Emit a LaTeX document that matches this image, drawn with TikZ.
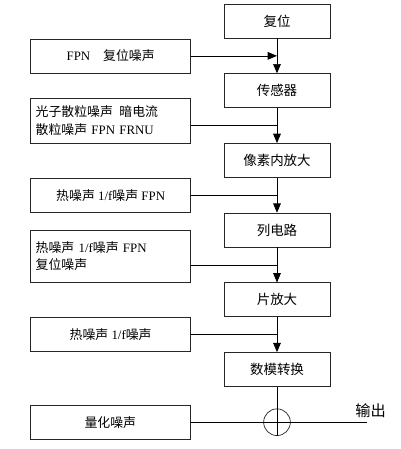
\documentclass[tikz,border=0pt]{standalone}
\usepackage{fontspec}
\setmainfont{Liberation Serif}
\newfontfamily\cjk{Noto Sans CJK SC}
\usetikzlibrary{arrows.meta,positioning,calc}
\newcommand{\zh}[1]{{\cjk #1}}

\begin{document}
\begin{tikzpicture}[
  node distance=10.5mm and 25.8mm, >={Triangle[length=2.8mm,width=2.3mm]},
  line width=0.6pt,
  stage/.style={rectangle, draw=black!85, minimum width=31.8mm, minimum height=10.2mm, font=\fontsize{11.5}{15}\selectfont},
  noise/.style={rectangle, draw=black!85, minimum width=48mm, minimum height=10.2mm, font=\fontsize{11}{15}\selectfont},
  noise2/.style={noise, text width=45mm, align=left, inner xsep=1.5mm},
  sum/.style={circle, draw=black!85, minimum size=8mm, inner sep=0pt},
]
  \useasboundingbox (0,0) rectangle (12.03,-13.47);

  % signal chain
  \node[stage] (reset) at (8.31,-0.63) {\zh{复位}};
  \node[stage, below=of reset] (sensor) {\zh{传感器}};
  \node[stage, below=of sensor] (pixamp) {\zh{像素内放大}};
  \node[stage, below=of pixamp] (column) {\zh{列电路}};
  \node[stage, below=of column] (chipamp) {\zh{片放大}};
  \node[stage, below=of chipamp] (adc) {\zh{数模转换}};
  \node[sum, below=6.5mm of adc] (sum) {};
  \coordinate[right=23mm of sum] (out);

  % noise entry points
  \coordinate (j1) at ($(reset.south)!.5!(sensor.north)$);
  \coordinate (j2) at ($(sensor.south)!.5!(pixamp.north)$);
  \coordinate (j3) at ($(pixamp.south)!.5!(column.north)$);
  \coordinate (j4) at ($(column.south)!.5!(chipamp.north)$);
  \coordinate (j5) at ($(chipamp.south)!.5!(adc.north)$);

  % noise sources
  \node[noise, left=of j1] (nreset) {FPN\quad\zh{复位噪声}};
  \node[noise2, minimum height=13.5mm, left=of j2, yshift=1.5mm] (nshot)
    {\zh{光子散粒噪声\enspace 暗电流}\\\zh{散粒噪声} FPN FRNU};
  \node[noise, left=of j3] (nthermal) {\zh{热噪声} 1/f\zh{噪声} FPN};
  \node[noise2, minimum height=15.6mm, left=of j4, yshift=2.6mm] (ncolumn)
    {\zh{热噪声} 1/f\zh{噪声} FPN\\\zh{复位噪声}};
  \node[noise, left=of j5] (nchip) {\zh{热噪声} 1/f\zh{噪声}};
  \node[noise, left=21.8mm of sum] (nquant) {\zh{量化噪声}};
  \node[above, xshift=1mm, font=\fontsize{13}{15}\selectfont] (outlabel) at (out) {\zh{输出}};

  \draw[->] (reset) -- (sensor);
  \draw[->] (sensor) -- (pixamp);
  \draw[->] (pixamp) -- (column);
  \draw[->] (column) -- (chipamp);
  \draw[->] (chipamp) -- (adc);
  \draw (adc) -- (sum.south);

  \draw[->] (nreset) -- (j1);
  \draw (nshot.east |- j2) -- (j2);
  \draw (nthermal) -- (j3);
  \draw (ncolumn.east |- j4) -- (j4);
  \draw (nchip) -- (j5);
  \draw (nquant) -- (out);
\end{tikzpicture}
\end{document}
